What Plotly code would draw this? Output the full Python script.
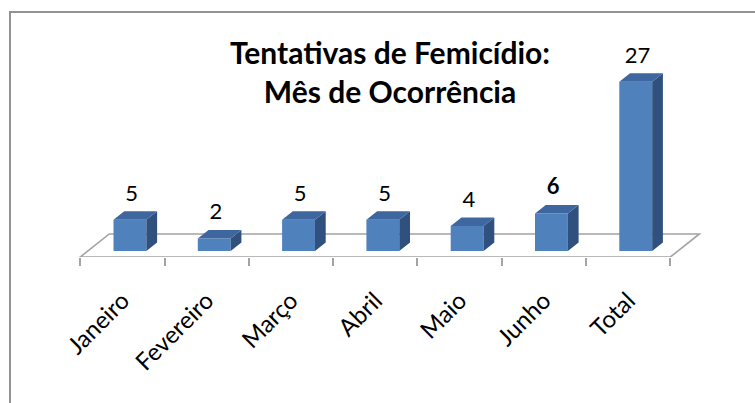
import plotly.graph_objects as go

# ---- data ----
categories = ["Janeiro", "Fevereiro", "Março", "Abril", "Maio", "Junho", "Total"]
values = [5, 2, 5, 5, 4, 6, 27]
bold_labels = [False, False, False, False, False, True, False]
title_lines = ["Tentativas de Femicídio:", "Mês de Ocorrência"]

# ---- style / geometry (pseudo-3D) ----
W, H = 755, 403
PX_PER_CAT = 84.3
PX_PER_UNIT = 6.27
FLOOR_Y_PX = 257          # pixel row of floor front edge
CAT0_PX = 122.4           # pixel x of first category centre
DEPTH_DX = 0.344          # floor depth offset in category units
DEPTH_DY = 3.67           # floor depth offset in value units
BAR_W = 0.39
D0 = 0.26                 # depth position of bar front face
DD = 0.37                 # bar depth fraction
LABEL_LIFT = 0.8          # extra gap (value units) above bar top for labels
FONT = "Lato"
FRONT = "#4F81BD"
TOP = "#3E67A0"
SIDE = "#30517D"
GRID = "#A3A3A3"

n = len(categories)
x_range = [-CAT0_PX / PX_PER_CAT, (W - CAT0_PX) / PX_PER_CAT]
y_range = [0, FLOOR_Y_PX / PX_PER_UNIT]

fx = DEPTH_DX * D0
fy = DEPTH_DY * D0
bdx = DEPTH_DX * DD
bdy = DEPTH_DY * DD

fig = go.Figure()

# front faces
fig.add_trace(go.Bar(
    x=[i + fx for i in range(n)], y=values, base=[fy] * n, width=BAR_W,
    marker=dict(color=FRONT, line=dict(width=0)), hoverinfo="skip", showlegend=False,
))

# top and side faces
tx, ty, sx, sy = [], [], [], []
for i, v in enumerate(values):
    xl = i + fx - BAR_W / 2
    xr = i + fx + BAR_W / 2
    yb = fy
    yt = fy + v
    tx += [xl, xr, xr + bdx, xl + bdx, xl, None]
    ty += [yt, yt, yt + bdy, yt + bdy, yt, None]
    sx += [xr, xr, xr + bdx, xr + bdx, xr, None]
    sy += [yb, yt, yt + bdy, yb + bdy, yb, None]

fig.add_trace(go.Scatter(x=sx, y=sy, mode="lines", fill="toself", fillcolor=SIDE,
                         line=dict(width=0, color=SIDE), hoverinfo="skip", showlegend=False))
fig.add_trace(go.Scatter(x=tx, y=ty, mode="lines", fill="toself", fillcolor=TOP,
                         line=dict(width=0, color=TOP), hoverinfo="skip", showlegend=False))

# value labels
label_text = [f"<b>{v}</b>" if b else str(v) for v, b in zip(values, bold_labels)]
fig.add_trace(go.Scatter(
    x=[i + fx + 0.02 for i in range(n)],
    y=[fy + v + bdy + LABEL_LIFT for v in values],
    mode="text", text=label_text, textposition="top center",
    textfont=dict(family=FONT, size=22, color="#000000"),
    hoverinfo="skip", showlegend=False,
))

# floor (drawn below traces)
x0f, x1f = -0.5, n - 0.5
floor_path = (f"M {x0f},0 L {x1f},0 L {x1f + DEPTH_DX},{DEPTH_DY} "
              f"L {x0f + DEPTH_DX},{DEPTH_DY} Z")
shapes = [
    dict(type="path", path=floor_path, xref="x", yref="y", layer="below",
         line=dict(color=GRID, width=1.6)),
    dict(type="rect", xref="paper", yref="paper", x0=10 / W, x1=1.3,
         y0=-1.0, y1=1 - 12 / FLOOR_Y_PX, line=dict(color="#929292", width=2),
         layer="below"),
]

fig.update_layout(
    width=W, height=H,
    margin=dict(l=0, r=0, t=0, b=H - FLOOR_Y_PX),
    paper_bgcolor="white", plot_bgcolor="white",
    showlegend=False,
    shapes=shapes,
    title=dict(
        text="<b>" + "<br>".join(title_lines) + "</b>",
        x=390 / W, xanchor="center", xref="container",
        y=1 - 64 / H, yanchor="top", yref="container",
        font=dict(family=FONT, size=30, color="#000000"),
    ),
    xaxis=dict(
        range=x_range, showgrid=False, zeroline=False, showline=False,
        tickmode="array", tickvals=list(range(n)), ticktext=categories,
        ticks="", tickangle=-45, ticklabelstandoff=24,
        tickfont=dict(family=FONT, size=24, color="#000000"),
        minor=dict(tickmode="array", tickvals=[i - 0.5 for i in range(n + 1)],
                   ticks="outside", ticklen=8, tickcolor=GRID, tickwidth=2),
        fixedrange=True,
    ),
    yaxis=dict(range=y_range, visible=False, fixedrange=True),
)

fig.write_html("out.html", config={"displayModeBar": False},
               post_script="document.body.style.margin='0';")
